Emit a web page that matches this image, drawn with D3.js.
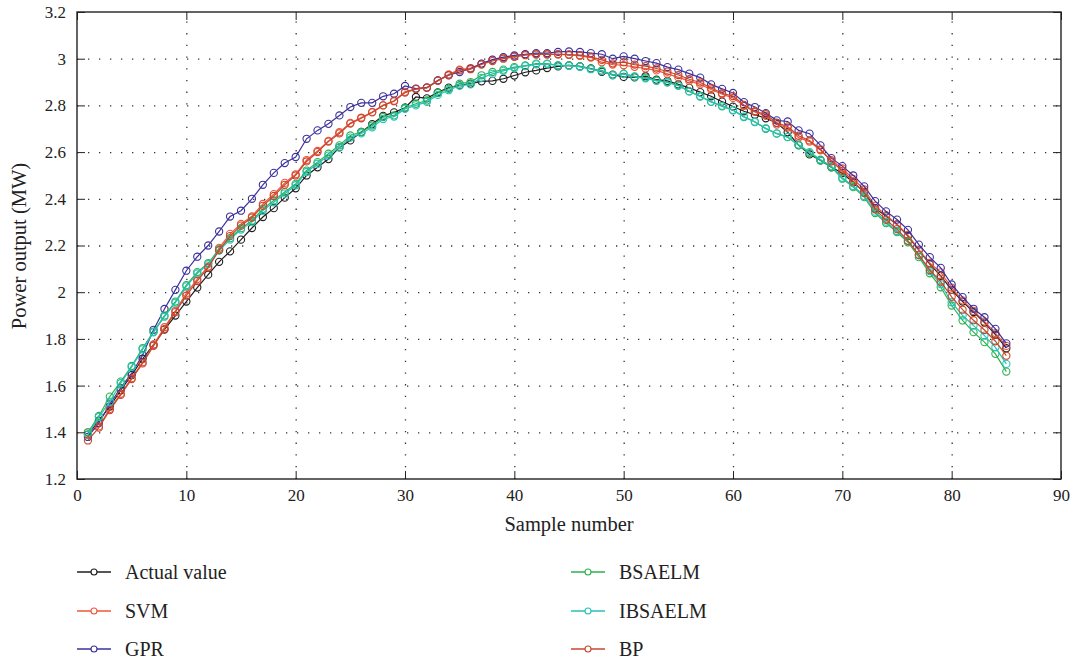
<!DOCTYPE html>
<html>
<head>
<meta charset="utf-8">
<script src="https://cdn.jsdelivr.net/npm/d3@7"></script>
<style>
  html, body { margin: 0; padding: 0; background: #fff; }
  svg { display: block; font-family: "Liberation Serif", "DejaVu Serif", serif; }
</style>
</head>
<body>
<svg id="chart" width="1073" height="661"></svg>
<script>
const samples = d3.range(1, 86);
const xTicks = [0, 10, 20, 30, 40, 50, 60, 70, 80, 90];
const yTicks = [1.2, 1.4, 1.6, 1.8, 2, 2.2, 2.4, 2.6, 2.8, 3, 3.2];

const actualValue = [1.39,1.45,1.51,1.58,1.645,1.715,1.775,1.84,1.90,1.96,2.02,2.075,2.13,2.175,2.225,2.275,2.322,2.36,2.405,2.445,2.50,2.535,2.57,2.62,2.65,2.686,2.72,2.755,2.77,2.79,2.836,2.83,2.856,2.876,2.886,2.893,2.903,2.905,2.914,2.928,2.942,2.95,2.96,2.967,2.971,2.967,2.958,2.944,2.932,2.922,2.92,2.925,2.91,2.905,2.89,2.875,2.857,2.839,2.816,2.795,2.775,2.76,2.745,2.725,2.685,2.63,2.59,2.565,2.535,2.51,2.47,2.43,2.36,2.325,2.29,2.24,2.18,2.12,2.07,2.01,1.96,1.915,1.87,1.818,1.76];
const svm = [1.40,1.425,1.50,1.565,1.632,1.70,1.775,1.85,1.92,1.995,2.056,2.11,2.19,2.25,2.292,2.325,2.378,2.42,2.468,2.505,2.566,2.605,2.648,2.685,2.725,2.748,2.772,2.80,2.82,2.858,2.871,2.877,2.907,2.933,2.953,2.96,2.978,2.995,3.004,3.01,3.018,3.02,3.02,3.018,3.016,3.012,3.005,2.985,2.975,2.972,2.965,2.958,2.95,2.935,2.92,2.905,2.89,2.868,2.848,2.832,2.798,2.772,2.755,2.718,2.705,2.662,2.645,2.608,2.565,2.53,2.485,2.44,2.37,2.33,2.29,2.245,2.182,2.125,2.085,2.02,1.965,1.92,1.875,1.825,1.77];
const gpr = [1.38,1.44,1.52,1.59,1.653,1.73,1.839,1.928,2.01,2.092,2.152,2.20,2.26,2.324,2.349,2.40,2.46,2.511,2.553,2.579,2.657,2.693,2.721,2.757,2.793,2.811,2.811,2.839,2.85,2.883,2.872,2.876,2.907,2.929,2.943,2.957,2.979,2.996,3.007,3.014,3.019,3.024,3.024,3.029,3.031,3.029,3.024,3.019,3.0,3.01,3.0,2.99,2.981,2.964,2.953,2.936,2.919,2.89,2.871,2.853,2.814,2.793,2.767,2.736,2.731,2.693,2.679,2.629,2.574,2.54,2.5,2.453,2.39,2.346,2.311,2.267,2.204,2.15,2.104,2.033,1.979,1.929,1.893,1.843,1.781];
const bsaelm = [1.40,1.47,1.553,1.617,1.684,1.76,1.831,1.90,1.96,2.03,2.086,2.124,2.184,2.231,2.274,2.306,2.357,2.393,2.429,2.464,2.521,2.557,2.593,2.629,2.671,2.686,2.714,2.75,2.757,2.79,2.807,2.821,2.853,2.871,2.893,2.90,2.929,2.943,2.953,2.964,2.971,2.979,2.979,2.971,2.971,2.967,2.957,2.95,2.929,2.936,2.924,2.919,2.907,2.90,2.886,2.86,2.838,2.815,2.796,2.779,2.75,2.729,2.70,2.679,2.664,2.629,2.596,2.564,2.536,2.486,2.45,2.407,2.339,2.296,2.257,2.214,2.15,2.081,2.021,1.943,1.879,1.829,1.786,1.736,1.66];
const ibsaelm = [1.39,1.465,1.531,1.61,1.68,1.755,1.828,1.895,1.955,2.025,2.08,2.12,2.178,2.225,2.268,2.30,2.35,2.385,2.422,2.458,2.515,2.55,2.585,2.62,2.662,2.68,2.706,2.742,2.752,2.785,2.80,2.815,2.845,2.865,2.885,2.89,2.918,2.935,2.948,2.96,2.968,2.976,2.977,2.972,2.97,2.965,2.955,2.947,2.93,2.934,2.922,2.916,2.905,2.898,2.884,2.86,2.84,2.816,2.798,2.78,2.752,2.73,2.702,2.68,2.665,2.632,2.6,2.568,2.54,2.49,2.455,2.412,2.345,2.302,2.262,2.22,2.158,2.09,2.035,1.957,1.90,1.857,1.814,1.764,1.693];
const bp = [1.365,1.42,1.495,1.56,1.628,1.695,1.77,1.842,1.915,1.985,2.048,2.105,2.18,2.24,2.285,2.32,2.37,2.412,2.46,2.5,2.56,2.6,2.645,2.68,2.722,2.745,2.77,2.80,2.818,2.855,2.87,2.875,2.905,2.93,2.95,2.955,2.975,2.99,3.0,3.008,3.015,3.018,3.018,3.02,3.018,3.015,3.008,2.995,2.98,2.985,2.975,2.968,2.958,2.945,2.93,2.912,2.898,2.875,2.852,2.84,2.802,2.775,2.762,2.725,2.71,2.67,2.65,2.612,2.56,2.52,2.475,2.425,2.355,2.31,2.27,2.22,2.16,2.095,2.045,1.98,1.925,1.88,1.838,1.79,1.728];

const seriesNames = ["Actual value", "SVM", "GPR", "BSAELM", "IBSAELM", "BP"];
const seriesColors = ["#1e1e1e", "#f0553a", "#3b309c", "#2bb24f", "#25c2b8", "#c8472c"];
const seriesData = [actualValue, svm, gpr, bsaelm, ibsaelm, bp];

const svg = d3.select("#chart");
const L = 77, R = 1061, T = 12, B = 479;
const x = d3.scaleLinear().domain([0, 90]).range([L, R]);
const y = d3.scaleLinear().domain([1.2, 3.2]).range([B, T]);

// grid
const grid = svg.append("g");
grid.append("g").attr("transform", `translate(0,${B})`)
  .call(d3.axisBottom(x).tickValues(xTicks.slice(1, -1)).tickSize(-(B - T)).tickFormat(""))
  .call(g => g.select(".domain").remove())
  .call(g => g.selectAll("line").attr("stroke", "#333").attr("stroke-width", 1.3).attr("stroke-dasharray", "1.3,10.4"));
grid.append("g").attr("transform", `translate(${L},0)`)
  .call(d3.axisLeft(y).tickValues(yTicks.slice(1, -1)).tickSize(-(R - L)).tickFormat(""))
  .call(g => g.select(".domain").remove())
  .call(g => g.selectAll("line").attr("stroke", "#333").attr("stroke-width", 1.3).attr("stroke-dasharray", "1.3,9.7"));

// series
const line = d3.line().x((d, i) => x(samples[i])).y(d => y(d));
seriesData.forEach((vals, k) => {
  const g = svg.append("g");
  g.append("path").datum(vals).attr("d", line)
    .attr("fill", "none").attr("stroke", seriesColors[k]).attr("stroke-width", 1.2);
  g.selectAll("circle").data(vals).join("circle")
    .attr("cx", (d, i) => x(samples[i])).attr("cy", d => y(d)).attr("r", 3.6)
    .attr("fill", "none").attr("stroke", seriesColors[k]).attr("stroke-width", 1.1);
});

// axes with inward ticks
const fs = "17px";
svg.append("g").attr("transform", `translate(0,${B})`)
  .call(d3.axisBottom(x).tickValues(xTicks).tickSize(-8).tickPadding(10).tickFormat(d3.format("d")))
  .call(g => g.select(".domain").remove())
  .call(g => g.selectAll("text").attr("font-size", fs).attr("fill", "#222").attr("font-family", "Liberation Serif"))
  .call(g => g.selectAll("line").attr("stroke", "#222"));
svg.append("g").attr("transform", `translate(0,${T})`)
  .call(d3.axisTop(x).tickValues(xTicks).tickSize(-8).tickFormat(""))
  .call(g => g.select(".domain").remove())
  .call(g => g.selectAll("line").attr("stroke", "#222"));
svg.append("g").attr("transform", `translate(${L},0)`)
  .call(d3.axisLeft(y).tickValues(yTicks).tickSize(-8).tickPadding(11).tickFormat(d => d3.format("")(+d.toFixed(1))))
  .call(g => g.select(".domain").remove())
  .call(g => g.selectAll("text").attr("font-size", fs).attr("fill", "#222").attr("font-family", "Liberation Serif"))
  .call(g => g.selectAll("line").attr("stroke", "#222"));
svg.append("g").attr("transform", `translate(${R},0)`)
  .call(d3.axisRight(y).tickValues(yTicks).tickSize(-8).tickFormat(""))
  .call(g => g.select(".domain").remove())
  .call(g => g.selectAll("line").attr("stroke", "#222"));

svg.append("rect").attr("x", L).attr("y", T).attr("width", R - L).attr("height", B - T)
  .attr("fill", "none").attr("stroke", "#222").attr("stroke-width", 1.4);

// titles
svg.append("text").attr("x", 569).attr("y", 531).attr("text-anchor", "middle")
  .attr("font-size", "20.5px").attr("fill", "#222").text("Sample number");
svg.append("text").attr("transform", `translate(26,246) rotate(-90)`).attr("text-anchor", "middle")
  .attr("font-size", "20.5px").attr("fill", "#222").text("Power output (MW)");

// legend
const legendPos = [[77, 572], [77, 611], [77, 649], [571, 572], [571, 611], [571, 649]];
seriesNames.forEach((name, k) => {
  const [lx, ly] = legendPos[k];
  const g = svg.append("g");
  g.append("line").attr("x1", lx).attr("x2", lx + 34).attr("y1", ly).attr("y2", ly)
    .attr("stroke", seriesColors[k]).attr("stroke-width", 1.3);
  g.append("circle").attr("cx", lx + 17).attr("cy", ly).attr("r", 3)
    .attr("fill", "#fff").attr("stroke", seriesColors[k]).attr("stroke-width", 1.1);
  g.append("text").attr("x", lx + 48).attr("y", ly + 7).attr("font-size", "20px").attr("fill", "#222").text(name);
});
</script>
</body>
</html>
